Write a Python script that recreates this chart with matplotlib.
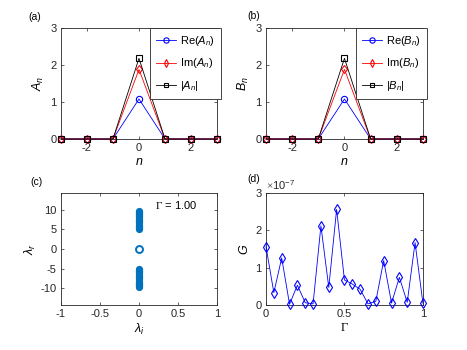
import numpy as np
import matplotlib.pyplot as plt

plt.rcParams['font.family'] = ['Liberation Sans', 'DejaVu Sans']
plt.rcParams['font.size'] = 8
plt.rcParams['axes.unicode_minus'] = False
plt.rcParams['mathtext.fontset'] = 'custom'
plt.rcParams['mathtext.it'] = 'Liberation Sans:italic'
plt.rcParams['mathtext.rm'] = 'Liberation Serif'
plt.rcParams['mathtext.sf'] = 'Liberation Sans'

# mode amplitudes (panels a, b)
n_vals = [-3, -2, -1, 0, 1, 2, 3]
re_A = [0, 0, 0, 1.08, 0, 0, 0]
im_A = [0, 0, 0, 1.88, 0, 0, 0]
abs_A = [0, 0, 0, 2.18, 0, 0, 0]
re_B = [0, 0, 0, 1.08, 0, 0, 0]
im_B = [0, 0, 0, 1.88, 0, 0, 0]
abs_B = [0, 0, 0, 2.18, 0, 0, 0]

# spectrum (panel c)
lam_i = [0.0] * 34
lam_r = [5.0, 5.3, 5.6, 5.9, 6.2, 6.5, 6.8, 7.1, 7.4, 7.7, 8.0, 8.3, 8.6,
         8.9, 9.2, 9.5, 9.7,
         -5.0, -5.3, -5.6, -5.9, -6.2, -6.5, -6.8, -7.1, -7.4, -7.7, -8.0,
         -8.3, -8.6, -8.9, -9.2, -9.5, -9.7]
zero_i = [0.0]
zero_r = [0.0]

# growth vs Gamma (panel d)
gamma = [0, 0.05, 0.1, 0.15, 0.2, 0.25, 0.3, 0.35, 0.4, 0.45, 0.5,
         0.55, 0.6, 0.65, 0.7, 0.75, 0.8, 0.85, 0.9, 0.95, 1.0]
G = [1.56, 0.33, 1.26, 0.02, 0.53, 0.06, 0.03, 2.12, 0.47, 2.56, 0.67,
     0.56, 0.42, 0.03, 0.10, 1.19, 0.05, 0.74, 0.07, 1.67, 0.05]

fig = plt.figure(figsize=(4.67, 3.5), dpi=100)
ax_a = fig.add_axes([0.1306, 0.603, 0.334, 0.317])
ax_b = fig.add_axes([0.5696, 0.603, 0.336, 0.317])
ax_c = fig.add_axes([0.1306, 0.1286, 0.334, 0.32])
ax_d = fig.add_axes([0.5696, 0.1286, 0.336, 0.32])


def style(ax):
    ax.tick_params(direction='in', length=2.5, width=0.5, top=True, right=True,
                   colors='#262626', labelsize=8, pad=3)
    for s in ax.spines.values():
        s.set_linewidth(0.6)
        s.set_color('#262626')


def amp_panel(ax, re, im, ab, name):
    kw = dict(lw=0.6, mfc='none', mew=0.8, clip_on=False, zorder=3)
    ax.plot(n_vals, re, '-o', color='b', ms=4.5,
            label=r'Re($%s_n$)' % name, **kw)
    ax.plot(n_vals, im, '-d', color='r', ms=4.5,
            label=r'Im($%s_n$)' % name, **kw)
    ax.plot(n_vals, ab, '-s', color='k', ms=4,
            label=r'|$%s_n$|' % name, **kw)
    ax.set_xlim(-3, 3)
    ax.set_ylim(0, 3)
    ax.set_xticks([-2, 0, 2])
    ax.set_yticks([0, 1, 2, 3])
    ax.set_xlabel(r'$n$', labelpad=2, fontsize=9)
    ax.set_ylabel(r'$%s_n$' % name, labelpad=3, fontsize=9)
    style(ax)
    leg = ax.legend(loc='upper right', bbox_to_anchor=(1.06, 1.05),
                    fontsize=8, handlelength=1.8, handletextpad=0.3,
                    borderpad=0.55, labelspacing=0.75, fancybox=False,
                    framealpha=1, markerscale=0.85)
    leg.get_frame().set_edgecolor('#262626')
    leg.get_frame().set_linewidth(0.6)
    leg.set_zorder(5)


amp_panel(ax_a, re_A, im_A, abs_A, 'A')
amp_panel(ax_b, re_B, im_B, abs_B, 'B')

ax_c.plot(lam_i, lam_r, 'o', color='#0072BD', ms=5.2, mew=0)
ax_c.plot(zero_i, zero_r, 'o', color='#0072BD', ms=5, mfc='none', mew=1.4)
ax_c.set_xlim(-1, 1)
ax_c.set_ylim(-14.2, 14.2)
ax_c.set_xticks([-1, -0.5, 0, 0.5, 1])
ax_c.set_xticklabels(['-1', '-0.5', '0', '0.5', '1'])
ax_c.set_yticks([-10, -5, 0, 5, 10])
ax_c.set_xlabel(r'$\lambda_i$', labelpad=2, fontsize=9)
ax_c.set_ylabel(r'$\lambda_r$', labelpad=2, fontsize=9)
ax_c.text(0.2, 10.2, r'$\Gamma$ = 1.00', fontsize=8)
style(ax_c)

ax_d.plot(gamma, np.array(G) * 1e-7, '-d', color='b', lw=0.6, ms=5,
          mfc='none', mew=0.8, clip_on=False, zorder=3)
ax_d.set_xlim(0, 1)
ax_d.set_ylim(0, 3e-7)
ax_d.set_xticks([0, 0.5, 1])
ax_d.set_xticklabels(['0', '0.5', '1'])
ax_d.set_yticks([0, 1e-7, 2e-7, 3e-7])
ax_d.set_yticklabels(['0', '1', '2', '3'])
ax_d.text(0.0, 1.005, r'$\times\mathsf{10^{-7}}$', transform=ax_d.transAxes,
          fontsize=8, color='#262626', va='bottom')
ax_d.set_xlabel(r'$\Gamma$', labelpad=2, fontsize=9)
ax_d.set_ylabel(r'$G$', labelpad=3, fontsize=9)
style(ax_d)

fig.text(28 / 467, 1 - 17 / 350, '(a)', fontsize=7.5, va='center')
fig.text(247 / 467, 1 - 16 / 350, '(b)', fontsize=7.5, va='center')
fig.text(30 / 467, 1 - 182 / 350, '(c)', fontsize=7.5, va='center')
fig.text(247 / 467, 1 - 179 / 350, '(d)', fontsize=7.5, va='center')

fig.savefig('out.png', dpi=100)
